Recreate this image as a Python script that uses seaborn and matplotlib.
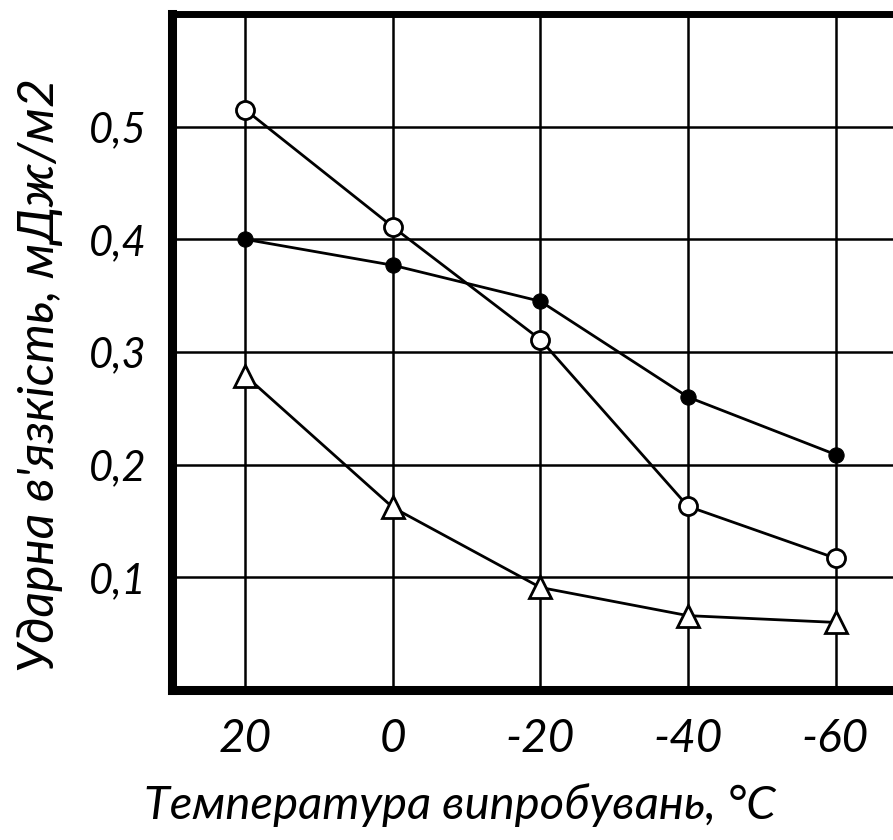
import matplotlib
matplotlib.use("Agg")
import matplotlib.pyplot as plt
import seaborn as sns
import pandas as pd

temps = ["20", "0", "-20", "-40", "-60"]
open_circles = [0.515, 0.411, 0.311, 0.163, 0.117]
filled_circles = [0.400, 0.377, 0.345, 0.260, 0.209]
triangles = [0.279, 0.162, 0.091, 0.066, 0.060]
yticks = [0.1, 0.2, 0.3, 0.4, 0.5]
ytick_labels = ["0,1", "0,2", "0,3", "0,4", "0,5"]
xlabel = "Температура випробувань, °C"
ylabel = "Ударна в'язкість, мДж/м2"

sns.set_theme(style="white")
plt.rcParams['font.family'] = ['Lato', 'DejaVu Sans']
plt.rcParams['font.style'] = 'italic'
plt.rcParams['text.color'] = 'black'
plt.rcParams['xtick.color'] = 'black'
plt.rcParams['ytick.color'] = 'black'

fig = plt.figure(figsize=(8.93, 8.4), dpi=100)
ax = fig.add_axes([172/893, 1-690/840, 1-172/893+0.01, (690-14)/840])

pos = list(range(len(temps)))
df = pd.DataFrame({"x": pos, "open": open_circles, "filled": filled_circles, "tri": triangles})

sns.lineplot(data=df, x="x", y="open", ax=ax, color="black", lw=2, marker="o",
             markersize=13, markerfacecolor="white", markeredgecolor="black",
             markeredgewidth=2, zorder=5)
sns.lineplot(data=df, x="x", y="filled", ax=ax, color="black", lw=2, marker="o",
             markersize=11, markerfacecolor="black", markeredgecolor="black", zorder=5)
sns.lineplot(data=df, x="x", y="tri", ax=ax, color="black", lw=2, marker="^",
             markersize=16, markerfacecolor="white", markeredgecolor="black",
             markeredgewidth=2, zorder=5)

ax.set_xlim(-0.497, 4.45)
ax.set_ylim(0, 0.6)
ax.set_xticks(pos)
ax.set_xticklabels(temps)
ax.set_yticks(yticks)
ax.set_yticklabels(ytick_labels)
ax.grid(True, color="black", lw=1.8)
ax.set_axisbelow(True)
for s in ["left", "bottom", "top"]:
    ax.spines[s].set_visible(True)
    ax.spines[s].set_color("black")
ax.spines["left"].set_linewidth(6.5)
ax.spines["bottom"].set_linewidth(6.5)
ax.spines["top"].set_linewidth(5)
ax.spines["right"].set_visible(False)
ax.tick_params(axis="x", length=0, pad=20, labelsize=33, labelcolor="black")
ax.tick_params(axis="y", length=0, pad=18, labelsize=30, labelcolor="black")
for t in ax.get_xticklabels() + ax.get_yticklabels():
    t.set_fontstyle("italic")
ax.set_xlabel("")
ax.set_ylabel("")
fig.text(460/893, 1-805/840, xlabel, ha="center", va="center", fontsize=34,
         style="italic", color="black")
fig.text(40/893, 1-375/840, ylabel, ha="center", va="center", rotation=90,
         fontsize=36, style="italic", color="black")

fig.savefig("out.png", dpi=100)
